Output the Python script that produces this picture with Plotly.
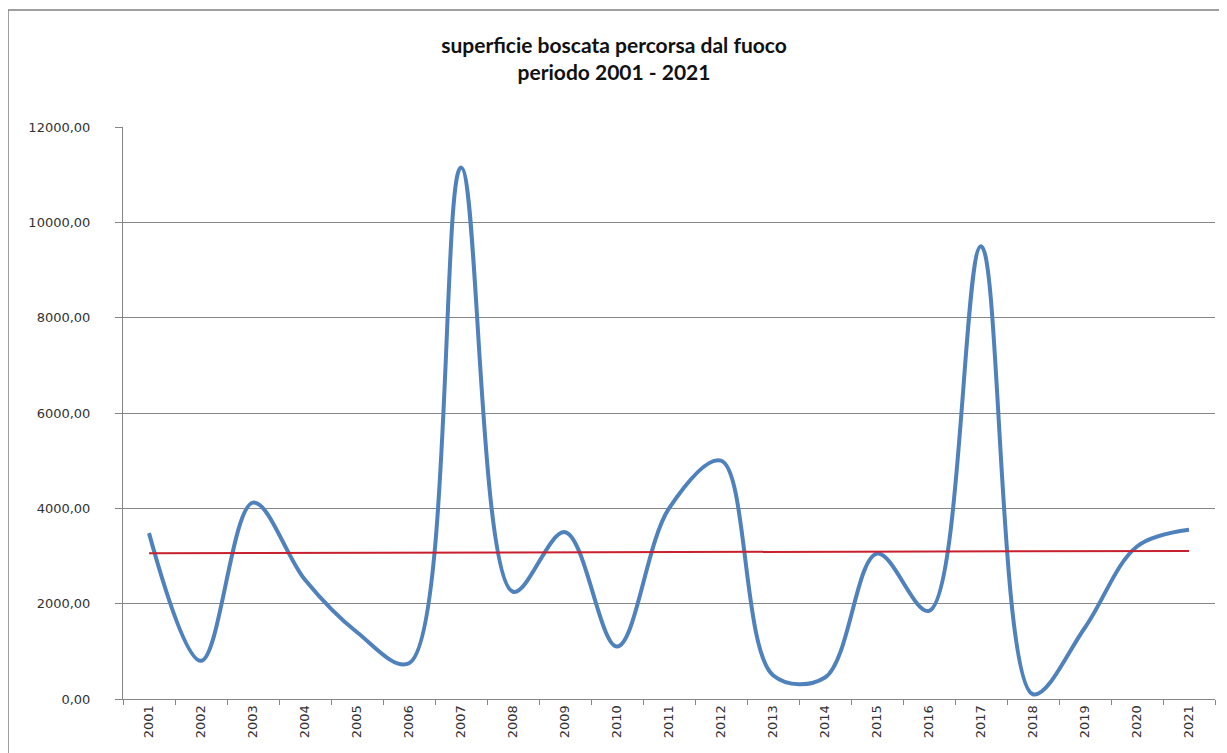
import plotly.graph_objects as go

anni = [str(a) for a in range(2001, 2022)]
superficie = [3480, 800, 4120, 2500, 1400, 750, 11150, 2250, 3500, 1100, 4000,
              5000, 500, 450, 3050, 1850, 9500, 100, 1500, 3200, 3550]

# linea di tendenza lineare (valori agli estremi)
anni_tendenza = [anni[0], anni[-1]]
tendenza = [3060, 3105]

fig = go.Figure()
fig.add_trace(go.Scatter(
    x=anni, y=superficie, mode='lines',
    line=dict(color='#4F81BD', width=4, shape='spline', smoothing=1.0),
    showlegend=False
))
fig.add_trace(go.Scatter(
    x=anni_tendenza, y=tendenza, mode='lines',
    line=dict(color='#C8202E', width=2),
    showlegend=False
))

# la pagina ha 8px di margine del body
fig.update_layout(
    width=1219, height=745,
    margin=dict(l=115, r=12, t=119, b=54),
    paper_bgcolor='white', plot_bgcolor='white',
    separators=',.',
    title=dict(
        text='<b>superficie boscata percorsa dal fuoco<br>periodo 2001 - 2021</b>',
        x=(614 - 8) / 1219, xanchor='center', y=1 - 45 / 745, yanchor='middle',
        font=dict(family='Lato', size=21, color='#111111')
    ),
    xaxis=dict(
        type='category', range=[-0.5, 20.5], tickangle=-90, tickson='boundaries',
        ticks='outside', ticklen=5, tickcolor='#868686',
        showline=True, linecolor='#868686', linewidth=1,
        showgrid=False,
        tickfont=dict(family='DejaVu Sans', size=13, color='#333333')
    ),
    yaxis=dict(
        range=[0, 12000], dtick=2000, tickformat='.2f',
        ticks='outside', ticklen=7, tickcolor='#868686',
        ticklabelstandoff=22,
        showline=True, linecolor='#868686', linewidth=1,
        showgrid=True, gridcolor='#868686', gridwidth=1,
        zeroline=False,
        tickfont=dict(family='DejaVu Sans', size=13, color='#333333')
    ),
    shapes=[dict(
        type='rect', xref='paper', yref='paper',
        x0=(0 - 115) / 1092, x1=(1214 - 115) / 1092,
        y0=-0.2, y1=(691 - 2) / 572,
        line=dict(color='#808080', width=1.5), fillcolor='rgba(0,0,0,0)',
        layer='below'
    )]
)

fig.write_html("out.html")
